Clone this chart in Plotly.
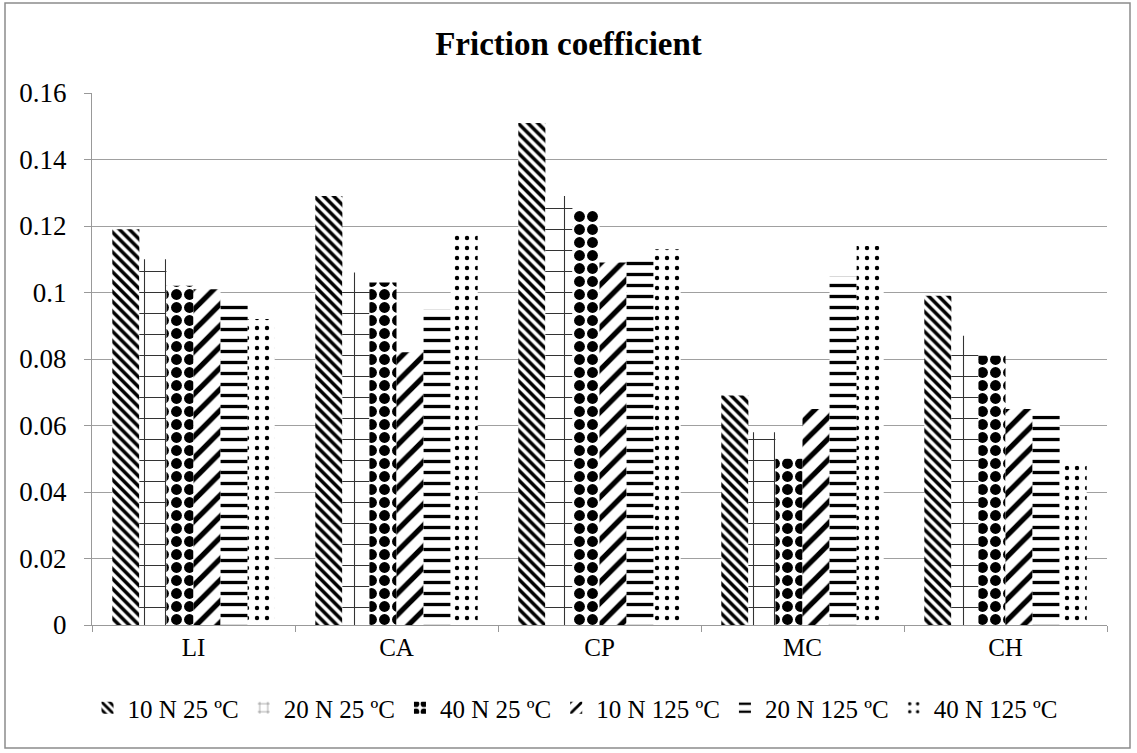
import plotly.graph_objects as go

categories = ["LI", "CA", "CP", "MC", "CH"]
series_names = ["10 N 25 ºC", "20 N 25 ºC", "40 N 25 ºC", "10 N 125 ºC", "20 N 125 ºC", "40 N 125 ºC"]
v_10N_25 = [0.119, 0.129, 0.151, 0.069, 0.099]
v_20N_25 = [0.110, 0.106, 0.129, 0.058, 0.087]
v_40N_25 = [0.102, 0.103, 0.125, 0.050, 0.081]
v_10N_125 = [0.101, 0.082, 0.109, 0.065, 0.065]
v_20N_125 = [0.098, 0.095, 0.110, 0.105, 0.063]
v_40N_125 = [0.092, 0.118, 0.113, 0.114, 0.048]
series_values = [v_10N_25, v_20N_25, v_40N_25, v_10N_125, v_20N_125, v_40N_125]

patterns = [
    dict(shape="\\", size=7, solidity=0.5, fgcolor="black", bgcolor="white", fillmode="replace"),
    dict(shape="+", size=21, solidity=0.1, fgcolor="#333333", bgcolor="white", fillmode="replace"),
    dict(shape=".", size=13, solidity=0.55, fgcolor="black", bgcolor="white", fillmode="replace"),
    dict(shape="/", size=15, solidity=0.35, fgcolor="black", bgcolor="white", fillmode="replace"),
    dict(shape="-", size=11, solidity=0.3, fgcolor="black", bgcolor="white", fillmode="replace"),
    dict(shape=".", size=10, solidity=0.15, fgcolor="black", bgcolor="white", fillmode="replace"),
]

font_family = "Liberation Serif, Times New Roman, serif"

fig = go.Figure()
for name, vals, pat in zip(series_names, series_values, patterns):
    fig.add_trace(go.Bar(
        x=categories, y=vals, name=name,
        marker=dict(color="white", pattern=pat, line=dict(width=0)),
    ))

W, H = 1137, 753
L, R, T, B = 92, 30, 93, 128
pw, ph = W - L - R, H - T - B

def px_x(x):
    return (x - L) / pw

def px_y(y):
    return (H - B - y) / ph

fig.update_layout(
    width=W, height=H,
    margin=dict(l=L, r=R, t=T, b=B, autoexpand=False),
    paper_bgcolor="white", plot_bgcolor="white",
    barmode="group", bargap=0.2, bargroupgap=0,
    font=dict(family=font_family, size=25, color="black"),
    title=dict(text="<b>Friction coefficient</b>", x=0.5, xanchor="center",
               y=1 - 43 / H, yanchor="middle", font=dict(size=33, family=font_family)),
    legend=dict(orientation="h", x=px_x(575), xanchor="center",
                y=px_y(708), yanchor="middle",
                font=dict(size=25), itemwidth=30, tracegroupgap=0, traceorder="normal"),
    xaxis=dict(showline=True, linecolor="#999999", linewidth=1, ticks="outside",
               tickson="boundaries", ticklen=6, tickcolor="#999999", showgrid=False,
               tickfont=dict(size=25)),
    yaxis=dict(range=[0, 0.16], dtick=0.02, showline=True, linecolor="#999999", linewidth=1,
               ticks="outside", ticklen=7, tickcolor="#999999", showgrid=True,
               gridcolor="#a0a0a0", gridwidth=1, zeroline=False, tickfont=dict(size=27),
               ticklabelstandoff=12),
    shapes=[dict(type="rect", xref="paper", yref="paper",
                 x0=px_x(5), x1=px_x(1130), y0=px_y(748), y1=px_y(3),
                 line=dict(color="#8c8c8c", width=1.5), fillcolor="rgba(0,0,0,0)", layer="below")],
)

fig.write_html("out.html")
